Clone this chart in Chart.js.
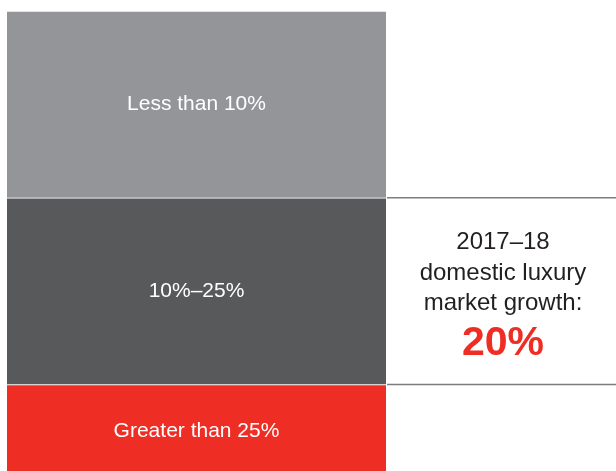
<!DOCTYPE html>
<html>
<head>
<meta charset="utf-8">
<script src="https://cdn.jsdelivr.net/npm/chart.js@4/dist/chart.umd.min.js"></script>
<style>
html,body{margin:0;padding:0;background:#fff;}
canvas{display:block;}
</style>
</head>
<body>
<canvas id="c" width="616" height="471"></canvas>
<script>
// Data (bottom segment first)
const categories = ["Growth"];
const segmentLabels = ["Greater than 25%", "10%\u201325%", "Less than 10%"];
const segmentValues = [19, 41, 41];
const segmentColors = ["#ee2e24", "#58595b", "#939598"];
const calloutLines = ["2017\u201318", "domestic luxury", "market growth:"];
const calloutValue = "20%";

const total = segmentValues.reduce((a, b) => a + b, 0);

const segmentLabelPlugin = {
  id: "segmentLabels",
  afterDatasetsDraw(chart) {
    const ctx = chart.ctx;
    const yScale = chart.scales.y;
    const area = chart.chartArea;
    ctx.save();
    // inner labels
    chart.data.datasets.forEach((ds, i) => {
      const el = chart.getDatasetMeta(i).data[0];
      const top = el.y, bottom = el.base;
      ctx.fillStyle = "#ffffff";
      ctx.font = "21px 'Liberation Sans', Arial, sans-serif";
      ctx.textAlign = "center";
      ctx.textBaseline = "middle";
      ctx.fillText(ds.label, el.x, (top + bottom) / 2 + (i === 0 ? 3 : 0));
    });
    // separator lines on the right at the segment boundaries
    let cum = 0;
    const bounds = [];
    for (let i = 0; i < segmentValues.length - 1; i++) {
      cum += segmentValues[i];
      bounds.push(yScale.getPixelForValue(cum));
    }
    ctx.strokeStyle = "#7d7d7d";
    ctx.lineWidth = 1.5;
    bounds.forEach(y => {
      ctx.beginPath();
      ctx.moveTo(area.right + 1, y);
      ctx.lineTo(chart.width, y);
      ctx.stroke();
    });
    // callout text
    const cx = (area.right + chart.width) / 2 + 2;
    const midY = (bounds[0] + bounds[1]) / 2;
    ctx.textAlign = "center";
    ctx.textBaseline = "alphabetic";
    ctx.fillStyle = "#231f20";
    ctx.font = "24px 'Liberation Sans', Arial, sans-serif";
    const base0 = midY - 42;
    calloutLines.forEach((t, i) => {
      ctx.fillText(t, cx, base0 + i * 30.5);
    });
    ctx.fillStyle = "#ee2e24";
    ctx.font = "bold 41px 'Liberation Sans', Arial, sans-serif";
    ctx.fillText(calloutValue, cx, base0 + 106);
    ctx.restore();
  }
};

new Chart(document.getElementById("c"), {
  type: "bar",
  data: {
    labels: categories,
    datasets: segmentLabels.map((lab, i) => ({
      label: lab,
      data: [segmentValues[i]],
      backgroundColor: segmentColors[i],
      borderColor: "rgba(255,255,255,0.55)",
      borderWidth: { top: 1, bottom: 0, left: 0, right: 0 },
      borderSkipped: false,
      categoryPercentage: 1,
      barPercentage: 1
    }))
  },
  options: {
    responsive: false,
    animation: false,
    events: [],
    layout: { padding: { left: 7, right: 230, top: 11, bottom: 0 } },
    plugins: { legend: { display: false }, tooltip: { enabled: false } },
    scales: {
      x: { stacked: true, display: false },
      y: { stacked: true, display: false, min: 0, max: total }
    }
  },
  plugins: [segmentLabelPlugin]
});
</script>
</body>
</html>
